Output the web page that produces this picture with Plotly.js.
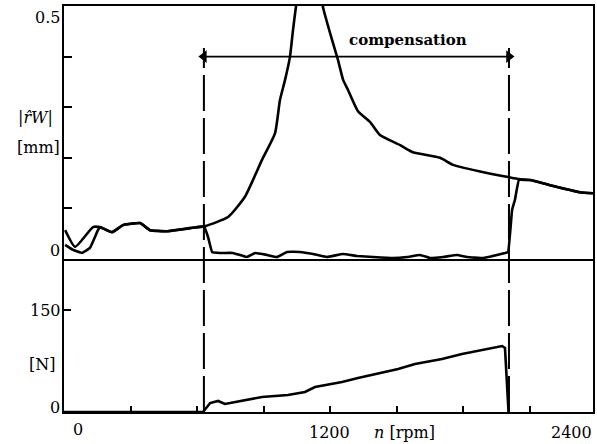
<!DOCTYPE html>
<html>
<head>
<meta charset="utf-8">
<script src="https://cdn.plot.ly/plotly-3.0.1.min.js"></script>
<style>html,body{margin:0;padding:0;background:#fff;}#chart{width:597px;height:444px;}</style>
</head>
<body>
<div id="chart"></div>
<script>
// Speed axis [rpm]
const rpmA = [5, 50, 131, 162, 217, 266, 343, 388, 465, 568, 636, 740, 816, 893, 952, 974, 997, 1019, 1033, 1046, 1075, 1105, 1140, 1168, 1209, 1236, 1259, 1281, 1326, 1380, 1425, 1516, 1574, 1696, 1755, 1908, 2003, 2052, 2102, 2192, 2327, 2386];
// |r_W| without compensation [mm]
const rA = [0.057, 0.024, 0.063, 0.063, 0.053, 0.067, 0.071, 0.057, 0.055, 0.061, 0.065, 0.083, 0.123, 0.196, 0.249, 0.314, 0.354, 0.399, 0.453, 0.498, 0.58, 0.62, 0.58, 0.498, 0.433, 0.393, 0.354, 0.334, 0.292, 0.271, 0.245, 0.225, 0.211, 0.2, 0.186, 0.17, 0.162, 0.158, 0.156, 0.146, 0.132, 0.13];

const rpmB = [5, 41, 81, 117, 153, 162, 217, 266, 343, 388, 465, 568, 631, 650, 668, 704, 762, 825, 862, 916, 961, 1006, 1064, 1123, 1186, 1258, 1322, 1394, 1484, 1547, 1606, 1651, 1710, 1773, 1818, 1890, 1953, 1989, 2003, 2021, 2034, 2052, 2102, 2192, 2327, 2386];
// |r_W| with compensation [mm]
const rB = [0.028, 0.018, 0.012, 0.022, 0.057, 0.063, 0.053, 0.067, 0.071, 0.057, 0.055, 0.061, 0.065, 0.043, 0.014, 0.012, 0.012, 0.004, 0.012, 0.008, 0.004, 0.014, 0.014, 0.010, 0.004, 0.010, 0.006, 0.004, 0.002, 0.004, 0.008, 0.002, 0.004, 0.008, 0.004, 0.002, 0.008, 0.012, 0.014, 0.097, 0.117, 0.156, 0.156, 0.146, 0.132, 0.13];

// Compensation force [N]
const rpmF = [0, 600, 627, 659, 695, 726, 771, 893, 1010, 1087, 1132, 1254, 1326, 1434, 1507, 1583, 1705, 1795, 1885, 1944, 1976, 1989, 2005];
const forceN = [0, 0, 0, 13.2, 16.2, 11.8, 14.7, 22, 25, 29.4, 36.8, 44.1, 50, 57.4, 63.2, 70.6, 77.9, 85.3, 91.2, 95.6, 97, 94.1, 0];

// Compensation window [rpm] and the level of its arrow [mm]
const compWindow = [631, 2007];
const compArrowLevel = [0.4, 0.4];
const compLabel = "compensation";

// Tick values
const xTicks = [0, 300, 600, 900, 1200, 1500, 1800, 2100, 2400];
const rTicks = [0, 0.1, 0.2, 0.3, 0.4, 0.5];
const fTicks = [0, 150];

const FONT = "DejaVu Serif";

const traces = [
  {x: rpmA, y: rA, xaxis: "x2", yaxis: "y", mode: "lines",
   line: {color: "#000", width: 2.6, shape: "spline", smoothing: 0.5}},
  {x: rpmB, y: rB, xaxis: "x2", yaxis: "y", mode: "lines",
   line: {color: "#000", width: 2.6, shape: "spline", smoothing: 0.25}},
  {x: rpmF, y: forceN, xaxis: "x", yaxis: "y2", mode: "lines",
   line: {color: "#000", width: 2.6}},
  {x: compWindow, y: compArrowLevel, xaxis: "x2", yaxis: "y", mode: "lines+markers",
   line: {color: "#000", width: 1.8},
   marker: {symbol: ["triangle-left", "triangle-right"], size: 11, color: "#000"}}
];

const splitFrac = 0.3768;
const dashTop = 0.8966;

function lab(text, x, y, extra) {
  return Object.assign({text: text, x: x, y: y, xref: "paper", yref: "paper",
    showarrow: false, xanchor: "center", yanchor: "middle",
    font: {family: FONT, size: 16, color: "#000"}}, extra || {});
}

const annotations = [
  lab("0.5", -0.0321, 0.9729),
  lab("0", -0.017, 0.399),
  lab("|<i>r̂W</i>|", -0.0548, 0.7266),
  lab("[mm]", -0.0491, 0.6527),
  lab("150", -0.0359, 0.2512),
  lab("[N]", -0.0416, 0.1158),
  lab("0", -0.017, 0.0123),
  lab("0", 0.0265, -0.0443),
  lab("1200", 0.501, -0.0493),
  lab("<i>n</i> [rpm]", 0.6446, -0.0493),
  lab("2400", 0.9603, -0.0493),
  lab(compLabel, 0.650, 0.916, {font: {family: FONT, size: 15, color: "#000", weight: "bold"}})
];

const shapes = compWindow.map(v => ({
  type: "line", xref: "x", yref: "paper", x0: v, x1: v, y0: 0, y1: dashTop,
  line: {color: "#000", width: 2, dash: "36px,7px"}
}));

const axBase = {showgrid: false, zeroline: false, showline: true, linecolor: "#000", linewidth: 2,
  ticks: "inside", tickcolor: "#000", tickwidth: 2, showticklabels: false};

const layout = {
  width: 597, height: 444,
  margin: {l: 64, r: 4, t: 6, b: 32, pad: 0},
  paper_bgcolor: "#fff", plot_bgcolor: "#fff",
  showlegend: false,
  font: {family: FONT, size: 16, color: "#000"},
  xaxis: Object.assign({}, axBase, {range: [0, 2386], anchor: "y2", tickvals: xTicks, ticklen: 6, mirror: false}),
  xaxis2: Object.assign({}, axBase, {range: [0, 2386], anchor: "y", matches: "x", ticks: "", mirror: true}),
  yaxis: Object.assign({}, axBase, {domain: [splitFrac, 1], range: [0, 0.5], tickvals: rTicks, ticklen: 8, mirror: true}),
  yaxis2: Object.assign({}, axBase, {domain: [0, splitFrac], range: [0, 225], tickvals: fTicks, ticklen: 7, mirror: true}),
  annotations: annotations,
  shapes: shapes
};

Plotly.newPlot("chart", traces, layout, {staticPlot: true, displayModeBar: false});
</script>
</body>
</html>
